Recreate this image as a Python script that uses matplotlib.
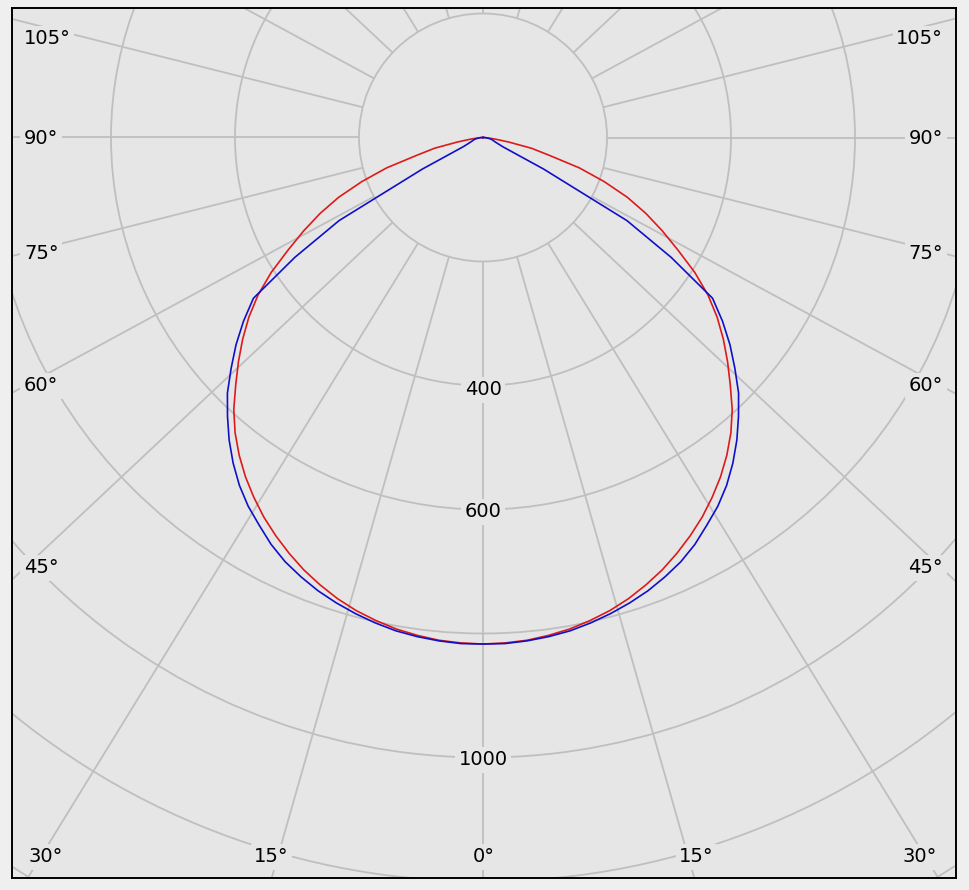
import numpy as np
import matplotlib
matplotlib.use("Agg")
import matplotlib.pyplot as plt
from matplotlib.patches import Circle

# ---------------- data ----------------
angles_deg = [0, 2.5, 5, 7.5, 10, 12.5, 15, 17.5, 20, 22.5, 25, 27.5, 30, 32.5,
              35, 37.5, 40, 42.5, 45, 47.5, 50, 52.5, 55, 57.5, 60, 62.5, 65,
              67.5, 70, 72.5, 75, 77.5, 80, 82.5, 85, 87.5, 90]
red_cd = [817, 816, 814, 810, 805, 798, 790, 780, 768, 755, 740, 724, 707, 688,
          668, 646, 622, 595, 564, 535, 506, 476, 443, 405, 363, 326, 290,
          252, 208, 163, 110, 80, 42, 20, 8, 3, 0]
blue_cd = [817, 817, 815, 812, 808, 802, 795, 787, 778, 767, 755, 740, 722, 705,
           685, 662, 637, 610, 583, 551, 520, 487, 452, 360, 268, 110, 35,
           26, 21, 18, 16, 14, 11, 8, 5, 3, 0]
ring_values = [200, 400, 600, 800, 1000, 1200, 1400]
ring_labels = [400, 600, 1000]
spoke_deg = list(range(0, 360, 15))
angle_tick_labels = ["105°", "90°", "75°", "60°", "45°", "30°", "15°", "0°"]

# ---------------- layout ----------------
W, H = 969, 890
CX, CY = 483.0, 137.5          # pole position (px)
S = 0.62                        # px per cd
BOX = (12, 8, 956, 878)         # plot frame (px): left, top, right, bottom
BG = "#e6e6e6"
GRID = "#bfbfbf"
SKEW = 1.065                    # horizontal stretch of the spokes as drawn in the reference

fig = plt.figure(figsize=(W / 100, H / 100), dpi=100, facecolor="#efefef")
l, t, r, b = BOX
ax = fig.add_axes([l / W, (H - b) / H, (r - l) / W, (b - t) / H])
ax.set_facecolor(BG)
ax.set_xlim((l - CX) / S, (r - CX) / S)
ax.set_ylim(-(b - CY) / S, (CY - t) / S)
ax.set_xticks([])
ax.set_yticks([])
for sp in ax.spines.values():
    sp.set_color("black")
    sp.set_linewidth(1.4)
    sp.set_zorder(10)

def px(xp, yp):
    return (xp - CX) / S, (CY - yp) / S

# rings
for rv in ring_values:
    ax.add_patch(Circle((0, 0), rv, fill=False, ec=GRID, lw=1.3, zorder=1))

# spokes (from the inner ring outward)
for d in spoke_deg:
    th = np.radians(d)
    vx, vy = np.sin(th) * SKEW, -np.cos(th)
    n = np.hypot(vx, vy)
    vx, vy = vx / n, vy / n
    ax.plot([ring_values[0] * vx, 4000 * vx], [ring_values[0] * vy, 4000 * vy],
            color=GRID, lw=1.3, zorder=1, solid_capstyle="butt")

# curves (mirrored on both sides)
th = np.radians(np.array(angles_deg))
full_th = np.concatenate([-th[::-1], th[1:]])
def mirror(v):
    v = np.array(v, dtype=float)
    return np.concatenate([v[::-1], v[1:]])
for vals, col in [(red_cd, "#dd1a1a"), (blue_cd, "#1010c8")]:
    I = mirror(vals)
    ax.plot(I * np.sin(full_th), -I * np.cos(full_th), color=col, lw=1.2, zorder=5)

font = dict(family="DejaVu Sans", fontsize=14, color="black")
bbox = dict(boxstyle="square,pad=0.18", fc=BG, ec="none")

# ring labels
ring_baseline_px = {400: 395, 600: 517, 1000: 765}
for rv in ring_labels:
    xx, yy = px(CX, ring_baseline_px[rv])
    ax.text(xx, yy, str(rv), ha="center", va="baseline", bbox=bbox, zorder=4, **font)

# angle labels: sides
side_baselines = [44, 144, 259, 391, 573]
for lab, yb in zip(angle_tick_labels[:5], side_baselines):
    xx, yy = px(24, yb)
    ax.text(xx, yy, lab, ha="left", va="baseline", bbox=bbox, zorder=4, **font)
    xx, yy = px(943, yb)
    ax.text(xx, yy, lab, ha="right", va="baseline", bbox=bbox, zorder=4, **font)

# angle labels: bottom
bottom_x = [46, 271.5, 484, 696.5, 919.5]
bottom_lab = ["30°", "15°", "0°", "15°", "30°"]
for lab, xb in zip(bottom_lab, bottom_x):
    xx, yy = px(xb, 862)
    ax.text(xx, yy, lab, ha="center", va="baseline", bbox=bbox, zorder=4, **font)

fig.savefig("out.png", dpi=100, facecolor=fig.get_facecolor())
